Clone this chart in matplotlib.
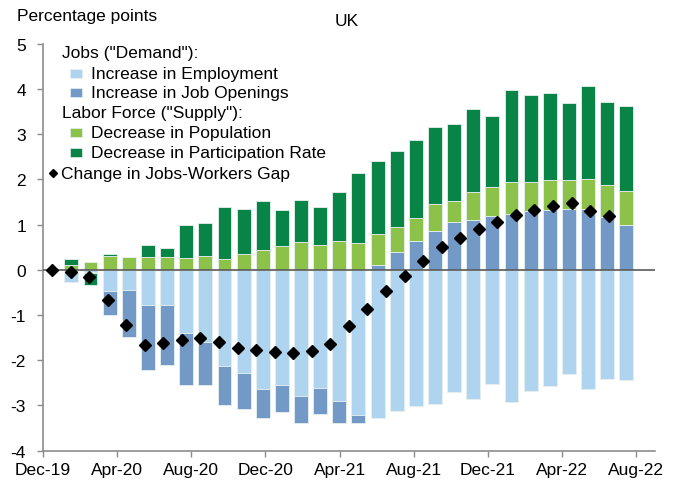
import matplotlib
matplotlib.use("Agg")
import matplotlib.pyplot as plt
from matplotlib.patches import Rectangle
from matplotlib.lines import Line2D
from matplotlib.transforms import Affine2D
import numpy as np

plt.rcParams['font.family'] = ['Liberation Sans', 'DejaVu Sans']
plt.rcParams['axes.unicode_minus'] = False

# ---------------- data ----------------
tick_labels = ["Dec-19", "Apr-20", "Aug-20", "Dec-20", "Apr-21",
               "Aug-21", "Dec-21", "Apr-22", "Aug-22"]

# bars: Jan-20 .. Jun-22 (30 bars)
employment = [-0.27, -0.05, -0.48, -0.46, -0.77, -0.77, -1.39, -1.59, -2.14, -2.29,
              -2.63, -2.55, -2.80, -2.62, -2.91, -3.21, -3.28, -3.13, -3.02, -2.97,
              -2.71, -2.85, -2.52, -2.92, -2.69, -2.58, -2.30, -2.63, -2.42, -2.44]
job_openings = [0.00, -0.03, -0.53, -1.02, -1.44, -1.33, -1.16, -0.96, -0.86, -0.79,
                -0.66, -0.60, -0.59, -0.58, -0.48, -0.19, 0.11, 0.39, 0.63, 0.86,
                1.05, 1.10, 1.18, 1.24, 1.29, 1.31, 1.34, 1.34, 1.17, 1.00]
population = [0.11, 0.16, 0.30, 0.27, 0.27, 0.28, 0.25, 0.31, 0.23, 0.35,
              0.44, 0.52, 0.61, 0.54, 0.63, 0.60, 0.68, 0.55, 0.51, 0.59,
              0.46, 0.63, 0.64, 0.69, 0.66, 0.68, 0.65, 0.67, 0.70, 0.74]
participation = [0.13, -0.25, 0.05, 0.00, 0.28, 0.21, 0.75, 0.72, 1.16, 0.99,
                 1.07, 0.80, 0.93, 0.84, 1.10, 1.53, 1.61, 1.69, 1.73, 1.71,
                 1.71, 1.82, 1.59, 2.04, 1.92, 1.91, 1.70, 2.06, 1.84, 1.88]
# diamonds: Dec-19 .. Jun-22 (31 points)
gap = [0.00, -0.04, -0.16, -0.67, -1.22, -1.67, -1.62, -1.56, -1.52, -1.59,
       -1.74, -1.78, -1.83, -1.85, -1.80, -1.64, -1.25, -0.86, -0.48, -0.15,
       0.19, 0.51, 0.71, 0.89, 1.06, 1.20, 1.32, 1.40, 1.47, 1.30, 1.18]

series = [
    ("Increase in Employment", employment, "#AED4F0"),
    ("Increase in Job Openings", job_openings, "#739AC7"),
    ("Decrease in Population", population, "#8CC24A"),
    ("Decrease in Participation Rate", participation, "#088446"),
]

W, H = 691, 485
fig = plt.figure(figsize=(W / 100, H / 100), dpi=100)
ax_l, ax_r, ax_t, ax_b = 42.7, 655.0, 44.7, 451.5
ax = fig.add_axes([ax_l / W, 1 - ax_b / H, (ax_r - ax_l) / W, (ax_b - ax_t) / H])

n_months = 33        # Dec-19 .. Aug-22 slots on the axis
n_bar_slots = 32     # bars sit on a slightly wider slot grid
bar_idx = np.arange(1, len(employment) + 1)
bar_x = (bar_idx + 0.5) * n_months / n_bar_slots
gap_x = np.arange(len(gap)) + 0.5

pos_base = np.zeros(len(employment))
neg_base = np.zeros(len(employment))
for name, vals, col in series:
    v = np.asarray(vals, dtype=float)
    bottom = np.where(v >= 0, pos_base, neg_base)
    ax.bar(bar_x, v, width=0.75, bottom=bottom, color=col,
           edgecolor="#E6F0EE", linewidth=0.6, zorder=2)
    pos_base = pos_base + np.where(v >= 0, v, 0)
    neg_base = neg_base + np.where(v < 0, v, 0)

ax.axhline(0, color="#5A5A5A", lw=1.2, zorder=3)
ax.plot(gap_x, gap, linestyle="none", marker="D", ms=6.6, color="black", zorder=4)

ax.set_xlim(0, n_months)
ax.set_ylim(-4, 5)
ax.set_xticks(np.arange(0, n_months, 4))
ax.set_xticklabels(tick_labels)
yt = np.arange(-4, 6)
ax.set_yticks(yt)
ax.set_yticklabels([str(v) for v in yt])

for s in ["top", "right"]:
    ax.spines[s].set_visible(False)
for s in ["left", "bottom"]:
    ax.spines[s].set_color("#8C8C8C")
    ax.spines[s].set_linewidth(1.2)
ax.tick_params(axis="both", direction="out", length=4, width=1.0, color="#8C8C8C",
               labelsize=12.5, labelcolor="black")
ax.tick_params(axis="y", pad=8)
ax.tick_params(axis="x", pad=4)

# ---------------- texts ----------------
pix = Affine2D().scale(1 / W, -1 / H).translate(0, 1) + fig.transFigure
fig.text(17.5, 17, "Percentage points", transform=pix, fontsize=12.5, va="center", ha="left")
fig.text(347, 22, "UK", transform=pix, fontsize=12.5, va="center", ha="center")

# ---------------- legend ----------------
fs = 12.5
fig.text(61.7, 53.5, 'Jobs ("Demand"):', transform=pix, fontsize=fs, va="center")
fig.text(61.7, 113.3, 'Labor Force ("Supply"):', transform=pix, fontsize=fs, va="center")
rows = [(74, series[0]), (93.3, series[1]), (133.3, series[2]), (153.3, series[3])]
for yc, (name, _, col) in rows:
    fig.add_artist(Rectangle((70, yc - 4.5), 12, 9, transform=pix, facecolor=col,
                             edgecolor="#E6F0EE", linewidth=0.5))
    fig.text(91, yc, name, transform=pix, fontsize=fs, va="center")
fig.add_artist(Line2D([53.5], [174.3], transform=pix, marker="D", ms=4.2,
                      color="black", linestyle="none"))
fig.text(61.5, 174.3, "Change in Jobs-Workers Gap", transform=pix, fontsize=fs, va="center")

fig.savefig("out.png", dpi=100)
